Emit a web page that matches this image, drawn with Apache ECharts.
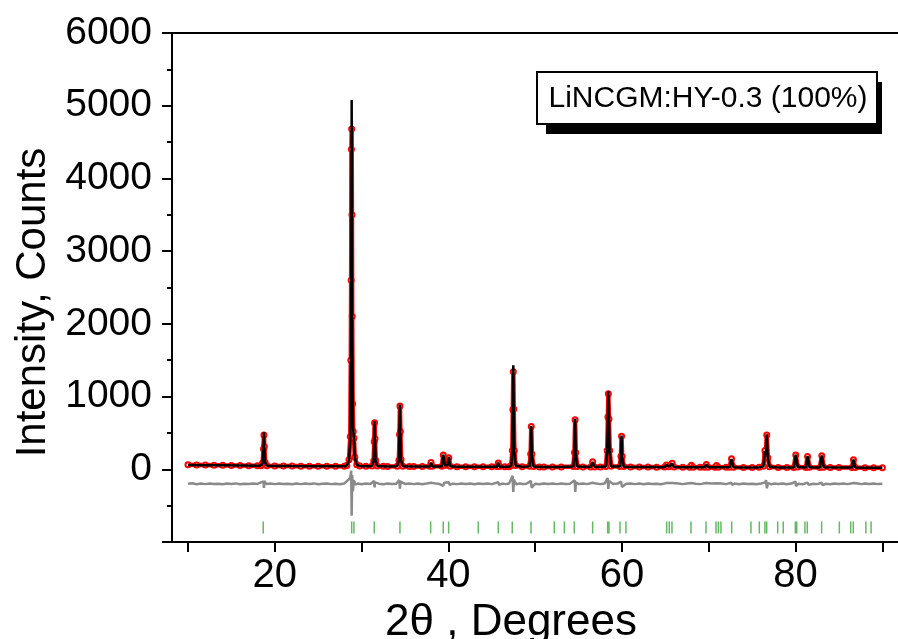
<!DOCTYPE html>
<html>
<head>
<meta charset="utf-8">
<script src="https://cdn.jsdelivr.net/npm/echarts@6/dist/echarts.min.js"></script>
<style>
  html, body { margin: 0; padding: 0; background: #fff; }
  #chart { width: 898px; height: 639px; }
</style>
</head>
<body>
<div id="chart"></div>
<script>
// observed counts (red circles), [2theta, counts]
var observed = [
  [10,62],[11,60],[12,58],[13,56],[14,54],[15,53],[16,51],[17,49],[18,48],
  [18.4,50],[18.6,85],[18.7,280],[18.75,470],[18.8,310],[18.9,95],[19.1,50],
  [20,46],[21,45],[22,44],[23,43],[24,43],[25,42],[26,42],[27,41],[28,41],
  [28.3,52],[28.55,130],[28.7,450],[28.76,1500],[28.8,2600],[28.83,4400],[28.86,4680],
  [28.89,3500],[28.92,2100],[28.97,900],[29.04,520],[29.12,430],[29.22,170],[29.45,62],[29.8,46],
  [30.5,42],[31.2,45],[31.4,115],[31.46,380],[31.5,640],[31.55,420],[31.62,125],[31.8,45],
  [32.5,41],[33,40],[34.1,42],[34.3,125],[34.37,480],[34.42,870],[34.47,520],[34.55,135],[34.75,43],
  [35.5,39],[36,38],[37,38],[37.85,41],[38,95],[38.15,41],
  [39.25,42],[39.42,195],[39.6,56],[39.9,56],[40.05,160],[40.22,43],
  [41,36],[42,36],[43,36],[44,35],[45,35],[45.6,37],[45.75,88],[45.9,37],
  [46.5,35],[47,35],[47.25,52],[47.37,260],[47.43,820],[47.48,1340],[47.53,830],[47.6,260],[47.75,52],
  [48.5,34],[49.35,41],[49.48,210],[49.55,590],[49.62,210],[49.8,40],
  [50.5,33],[51,33],[52,33],[53,33],[54.4,38],[54.53,230],[54.6,680],[54.67,230],[54.85,39],
  [55.5,32],[56.4,33],[56.62,105],[56.85,33],[57.5,32],
  [58.15,39],[58.3,260],[58.38,720],[58.43,1040],[58.5,690],[58.58,260],[58.75,41],
  [59.75,39],[59.88,180],[59.95,455],[60.02,175],[60.2,37],
  [61,30],[62,30],[63,30],[64,29],[64.9,30],[65.12,58],[65.4,36],[65.78,82],[66,31],
  [67,29],[67.8,28],[68,57],[68.2,29],[69,28],[69.5,27],[69.72,66],[69.95,28],
  [70.7,27],[70.9,52],[71.1,28],[72,27],[72.4,28],[72.62,145],[72.85,28],
  [74,26],[75,26],[75.8,27],[76.3,42],[76.47,260],[76.57,210],[76.68,470],[76.8,160],[77,36],
  [78,26],[79,25],[79.8,26],[80.02,195],[80.25,31],[81.2,26],[81.38,175],[81.6,29],
  [82.8,25],[83.02,185],[83.25,28],[84,24],[85,23],[86.5,24],[86.67,130],[86.88,25],
  [88,22],[89,21],[90,20]
];

// calculated profile (black line)
var calculated = [
  [10,60],[12,57],[14,54],[16,51],[18,48],
  [18.4,50],[18.6,90],[18.7,300],[18.75,510],[18.8,300],[18.9,90],[19.1,50],
  [20,46],[22,44],[24,43],[26,42],[28,41],
  [28.3,50],[28.55,120],[28.7,420],[28.8,1900],[28.86,5080],[28.92,1900],[29,600],
  [29.12,420],[29.22,160],[29.45,60],[29.8,45],
  [30.5,42],[31.2,45],[31.4,120],[31.46,400],[31.5,660],[31.55,400],[31.62,120],[31.8,45],
  [33,40],[34.1,42],[34.3,130],[34.37,500],[34.42,890],[34.47,500],[34.55,130],[34.75,42],
  [36,38],[37.5,38],[37.85,40],[38,90],[38.15,40],
  [39.25,40],[39.42,200],[39.6,55],[39.9,55],[40.05,170],[40.22,42],
  [41,36],[43,36],[45,35],[45.6,36],[45.75,90],[45.9,36],
  [47,35],[47.25,50],[47.37,250],[47.43,800],[47.48,1430],[47.53,800],[47.6,250],[47.75,50],
  [48.5,34],[49.35,40],[49.48,200],[49.55,595],[49.62,200],[49.8,40],
  [51,33],[53,33],[54.4,38],[54.53,220],[54.6,695],[54.67,220],[54.85,38],
  [56.4,32],[56.62,100],[56.85,32],
  [58.15,38],[58.3,250],[58.38,700],[58.43,1075],[58.5,700],[58.58,250],[58.75,40],
  [59.75,38],[59.88,170],[59.95,465],[60.02,170],[60.2,36],
  [61,30],[63,30],[64.9,29],[65.12,60],[65.4,35],[65.78,80],[66,30],
  [67,29],[67.8,28],[68,55],[68.2,28],[69.5,27],[69.72,65],[69.95,27],
  [70.7,27],[70.9,50],[71.1,27],[72.4,27],[72.62,140],[72.85,27],
  [74,26],[75.8,26],[76.3,40],[76.47,250],[76.57,200],[76.68,480],[76.8,150],[77,35],
  [78,26],[79.8,26],[80.02,200],[80.25,30],[81.2,25],[81.38,180],[81.6,28],
  [82.8,25],[83.02,190],[83.25,27],[85,23],[86.5,23],[86.67,135],[86.88,24],
  [88,22],[90,20]
];

// difference curve (grey), offset below the pattern
var difference = [
  [10,-200],[10.5,-192],[11,-206],[11.5,-197],[12,-204],[12.5,-195],[13,-203],[13.5,-198],
  [14,-207],[14.5,-196],[15,-201],[15.5,-194],[16,-205],[16.5,-199],[17,-203],[17.5,-195],[18,-202],
  [18.7,-165],[18.75,-255],[18.8,-160],[19,-201],[19.5,-195],
  [20,-204],[20.5,-196],[21,-203],[21.5,-198],[22,-206],[22.5,-195],[23,-204],[23.5,-197],
  [24,-202],[24.5,-194],[25,-205],[25.5,-199],[26,-196],[26.5,-204],[27,-198],[27.5,-205],[28,-197],
  [28.7,-120],[28.8,-20],[28.86,-640],[28.92,-80],[29,-300],[29.12,-150],[29.3,-210],
  [29.6,-195],[30,-205],[30.5,-196],[31,-203],[31.45,-160],[31.5,-250],[31.55,-180],[32,-198],
  [32.5,-206],[33,-195],[33.5,-203],[34,-198],
  [34.35,-150],[34.42,-265],[34.5,-170],[35,-201],[35.5,-194],[36,-204],[36.5,-197],[37,-205],
  [37.5,-196],[38,-185],[38.2,-206],[38.6,-197],[39,-203],
  [39.4,-230],[39.5,-185],[40.05,-178],[40.15,-215],[40.5,-198],[41,-204],[41.5,-195],[42,-203],
  [42.5,-197],[43,-205],[43.5,-196],[44,-202],[44.5,-195],[45,-204],
  [45.75,-178],[45.85,-215],[46.2,-197],[46.6,-204],[47,-196],[47.4,-90],[47.48,-310],[47.55,-140],
  [47.8,-205],[48.2,-196],[48.6,-203],[49,-198],
  [49.5,-160],[49.6,-252],[50,-199],[50.5,-205],[51,-196],[51.5,-203],[52,-197],[52.5,-204],
  [53,-195],[53.5,-203],[54,-198],
  [54.55,-150],[54.62,-310],[54.7,-180],[55,-201],[55.5,-195],[56,-204],[56.6,-185],[56.7,-212],
  [57,-197],[57.5,-204],[58,-196],
  [58.35,-120],[58.43,-270],[58.5,-160],[59,-203],[59.5,-196],[59.9,-170],[60,-242],[60.5,-200],
  [61,-195],[61.5,-204],[62,-197],[62.5,-205],[63,-196],[63.5,-203],[64,-198],[64.5,-205],
  [65.1,-190],[65.2,-208],[65.8,-188],[65.9,-212],[66.5,-197],[67,-204],[67.5,-196],
  [68,-189],[68.1,-208],[68.5,-198],[69,-204],[69.7,-190],[69.8,-210],[70.3,-196],
  [70.9,-191],[71,-209],[71.5,-197],[72,-204],[72.6,-185],[72.7,-214],[73,-197],
  [73.5,-205],[74,-196],[74.5,-203],[75,-198],[75.5,-205],[76,-196],
  [76.5,-180],[76.6,-150],[76.7,-262],[76.8,-190],[77.2,-205],[77.6,-196],
  [78,-203],[78.5,-197],[79,-205],[79.5,-196],[80,-170],[80.05,-232],[80.3,-199],[80.8,-205],
  [81.4,-184],[81.5,-214],[82,-198],[82.5,-204],
  [83,-186],[83.1,-216],[83.5,-199],[84,-205],[84.5,-196],[85,-203],[85.5,-197],[86,-204],
  [86.7,-188],[86.8,-212],[87.2,-197],[87.6,-204],[88,-196],[88.5,-203],[89,-197],[89.5,-204],[90,-200]
];

// Bragg reflection positions (green ticks)
var braggPositions = [
  18.67, 28.86, 29.12, 31.46, 34.42, 37.96, 39.41, 40.03, 43.44, 45.75, 47.36, 49.52,
  52.2, 53.36, 54.5, 56.62, 58.35, 58.5, 59.77, 60.46, 65.15, 65.45, 65.76, 67.95,
  69.68, 70.83, 71.1, 71.4, 72.64, 74.86, 75.82, 76.47, 76.67, 77.94, 78.58, 79.97,
  80.13, 81.08, 81.35, 83.0, 85.04, 86.35, 86.65, 88.1, 88.7
];
var braggLevel = -800;

var xTicks = [10, 20, 30, 40, 50, 60, 70, 80, 90];
var xLabels = [20, 40, 60, 80];

var sampleLabel = 'LiNCGM:HY-0.3 (100%)';

var FONT = '"Liberation Sans", Arial, sans-serif';

var chart = echarts.init(document.getElementById('chart'), null, { renderer: 'canvas' });

var option = {
  animation: false,
  backgroundColor: '#fff',
  graphic: [
    // label box with a hard drop shadow
    { type: 'rect', z: 100, shape: { x: 546, y: 82, width: 336, height: 52 }, style: { fill: '#000' } },
    { type: 'rect', z: 101, shape: { x: 537, y: 72, width: 340, height: 52 },
      style: { fill: '#fff', stroke: '#000', lineWidth: 2 } },
    { type: 'text', z: 102, x: 708, y: 99,
      style: { text: sampleLabel, fontFamily: FONT, fontSize: 30, fill: '#000', align: 'center', verticalAlign: 'middle' } }
  ],
  grid: {
    left: 172, right: 0, top: 33, bottom: 97,
    containLabel: false,
    outerBoundsMode: 'none'
  },
  xAxis: [
    {
      type: 'value',
      min: 8.16,
      max: 91.8,
      name: '2θ , Degrees',
      nameLocation: 'middle',
      nameGap: 49,
      nameTextStyle: { fontFamily: FONT, fontSize: 44, color: '#000', padding: [0, 48, 0, 0] },
      axisLine: { show: true, onZero: false, lineStyle: { color: '#000', width: 2 } },
      axisTick: { show: true, inside: false, length: 10, customValues: xTicks, lineStyle: { color: '#000', width: 2 } },
      axisLabel: { fontFamily: FONT, fontSize: 40, color: '#000', margin: 14, customValues: xLabels },
      splitLine: { show: false }
    },
    {
      type: 'value',
      position: 'top',
      min: 8.16,
      max: 91.8,
      axisLine: { show: true, onZero: false, lineStyle: { color: '#000', width: 2 } },
      axisTick: { show: false },
      axisLabel: { show: false },
      splitLine: { show: false }
    }
  ],
  yAxis: {
    type: 'value',
    min: -1000,
    max: 6000,
    interval: 1000,
    name: 'Intensity, Counts',
    nameLocation: 'middle',
    nameRotate: 90,
    nameGap: 118,
    nameTextStyle: { fontFamily: FONT, fontSize: 42, color: '#000', padding: [0, 30, 0, 0] },
    axisLine: { show: true, onZero: false, lineStyle: { color: '#000', width: 2 } },
    axisTick: { show: true, inside: false, length: 10, lineStyle: { color: '#000', width: 2 } },
    minorTick: { show: true, splitNumber: 2, length: 5, lineStyle: { color: '#000', width: 2 } },
    axisLabel: {
      fontFamily: FONT, fontSize: 39, color: '#000', margin: 20,
      formatter: function (v) { return v < 0 ? '' : String(v); }
    },
    splitLine: { show: false }
  },
  series: [
    {
      name: 'Difference',
      type: 'line',
      data: difference,
      symbol: 'none',
      z: 1,
      lineStyle: { color: '#8a8a8a', width: 2.5 }
    },
    {
      name: 'Observed',
      type: 'line',
      data: observed,
      symbol: 'emptyCircle',
      symbolSize: 5,
      showAllSymbol: true,
      z: 2,
      itemStyle: { color: '#ff0000', borderColor: '#ff0000', borderWidth: 1 },
      lineStyle: { color: '#ff0000', width: 4.5 }
    },
    {
      name: 'Calculated',
      type: 'line',
      data: calculated,
      symbol: 'none',
      z: 3,
      lineStyle: { color: '#000000', width: 2.5 }
    },
    {
      name: 'Bragg',
      type: 'scatter',
      data: braggPositions.map(function (p) { return [p, braggLevel]; }),
      symbol: 'rect',
      symbolSize: [1.5, 12],
      z: 2,
      itemStyle: { color: '#3da83d' }
    }
  ]
};

chart.setOption(option);
window.onresize = function () { chart.resize(); };
</script>
</body>
</html>
